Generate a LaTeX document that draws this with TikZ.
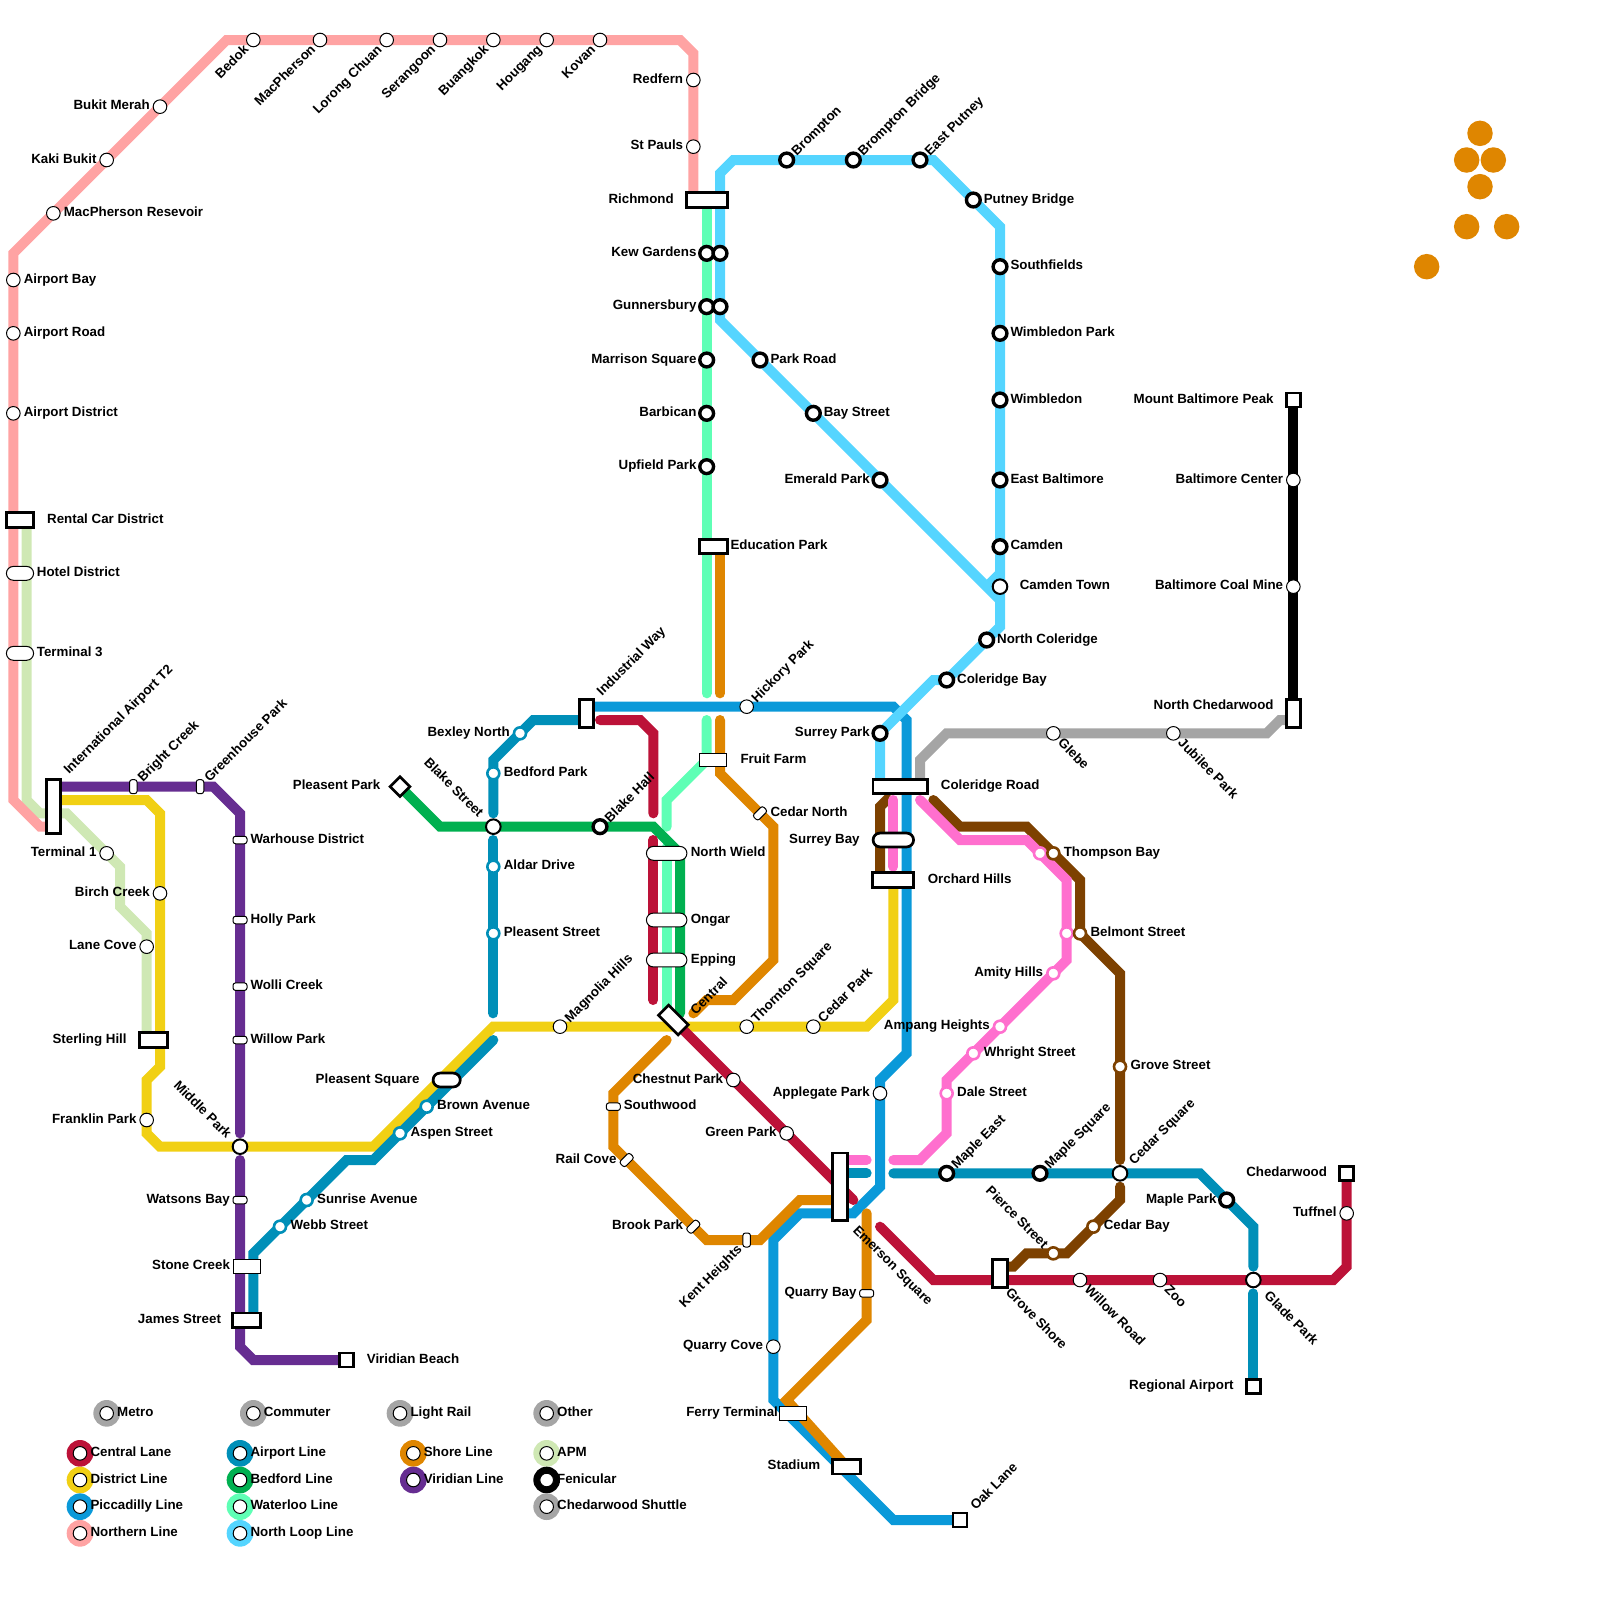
\documentclass[tikz,border=0pt]{standalone}
\usepackage{fontspec}
\setmainfont{Liberation Sans}
\usetikzlibrary{shapes.misc}
\pgfdeclarelayer{lines}
\pgfsetlayers{lines,main}
\definecolor{cCentral}{HTML}{BC1238}
\definecolor{cDistrict}{HTML}{F1D014}
\definecolor{cPicc}{HTML}{0A99D9}
\definecolor{cNorthern}{HTML}{FFA3A3}
\definecolor{cAirport}{HTML}{008FB8}
\definecolor{cBedford}{HTML}{00B050}
\definecolor{cWaterloo}{HTML}{5FFFB5}
\definecolor{cLoop}{HTML}{55D5FF}
\definecolor{cShore}{HTML}{DF8600}
\definecolor{cViridian}{HTML}{662D91}
\definecolor{cApm}{HTML}{CFE8B4}
\definecolor{cGrey}{HTML}{A5A5A5}
\definecolor{cPink}{HTML}{FF6FCE}
\definecolor{cBrown}{HTML}{7D4100}
\tikzset{
  ln/.style={line width=10pt,line cap=round,line join=miter},
  stn/.style={circle,draw=black,fill=white,inner sep=0pt,minimum size=13.6pt,line width=1pt},
  stm/.style={circle,draw=black,fill=white,inner sep=0pt,minimum size=14.6pt,line width=2pt},
  thk/.style={circle,draw=black,fill=white,inner sep=0pt,minimum size=13.8pt,line width=3.4pt},
  dotst/.style={circle,draw=#1,fill=white,inner sep=0pt,minimum size=12pt,line width=2.6pt},
  pil/.style={rectangle,rounded corners=2.5pt,draw=black,fill=white,inner sep=0pt,minimum width=14pt,minimum height=7.5pt,line width=1pt},
  pilv/.style={pil,rotate=90},
  pild/.style={pil,rotate=45},
  bxa/.style 2 args={rectangle,draw=black,fill=white,inner sep=0pt,minimum width=#1*13.33pt+1pt,minimum height=#2*13.33pt+1pt,line width=2.7pt},
  bxb/.style 2 args={rectangle,draw=black,fill=white,inner sep=0pt,minimum width=#1*13.33pt+0.5pt,minimum height=#2*13.33pt+0.5pt,line width=1pt},
  pla/.style 2 args={rounded rectangle,draw=black,fill=white,inner sep=0pt,minimum width=#1*13.33pt+0.5pt,minimum height=#2*13.33pt+0.5pt,line width=2.7pt},
  plb/.style 2 args={rounded rectangle,draw=black,fill=white,inner sep=0pt,minimum width=#1*13.33pt+0.5pt,minimum height=#2*13.33pt+0.5pt,line width=1pt},
  sq/.style={rectangle,draw=black,fill=white,inner sep=0pt,minimum size=14pt,line width=2.7pt},
  dsc/.style={circle,fill=#1,inner sep=0pt,minimum size=26.67pt},
  orb/.style={circle,fill=cShore,inner sep=0pt,minimum size=25.5pt},
  lab/.style={font=\fontsize{13.33pt}{16pt}\selectfont\bfseries,inner sep=0pt,text=black},
  lr/.style={lab,anchor=base west,xshift=10.3pt,yshift=-3.3pt},
  ll/.style={lab,anchor=base east,xshift=-10pt,yshift=-3.3pt},
  lur/.style={lab,rotate=45,anchor=base west,xshift=9.5pt,yshift=-4.6pt},
  ldr/.style={lab,rotate=-45,anchor=base west,xshift=10pt,yshift=-4.6pt},
  lul/.style={lab,rotate=-45,anchor=base east,xshift=-10pt,yshift=-4.6pt},
  ldl/.style={lab,rotate=45,anchor=base east,xshift=-10pt,yshift=-4.6pt},
}
\newcommand\St[6]{\node[#1] (#2) at (#3,#4) {};\node[#5] (#2-t) at (#3,#4) {#6};}
\newcommand\Sn[4]{\node[#1] (#2) at (#3,#4) {};}
\newcommand\Lg[6]{\node[dsc=#4] (#1-d) at (#2,#3) {};\node[#5] (#1) at (#2,#3) {};\node[lr] (#1-t) at (#2,#3) {#6};}
\begin{document}
\begin{tikzpicture}[x=13.3333pt,y=-13.3333pt]
\useasboundingbox (0,0) rectangle (120,120);
% --- Northern
\St{stn}{bedok}{19}{3}{ldl}{Bedok}
\St{stn}{macph}{24}{3}{ldl}{MacPherson}
\St{stn}{lorong}{29}{3}{ldl}{Lorong Chuan}
\St{stn}{serang}{33}{3}{ldl}{Serangoon}
\St{stn}{buang}{37}{3}{ldl}{Buangkok}
\St{stn}{hougang}{41}{3}{ldl}{Hougang}
\St{stn}{kovan}{45}{3}{ldl}{Kovan}
\St{stn}{redfern}{52}{6}{ll}{Redfern}
\St{stn}{stpauls}{52}{11}{ll}{St Pauls}
\St{stn}{bukit}{12}{8}{ll}{Bukit Merah}
\St{stn}{kaki}{8}{12}{ll}{Kaki Bukit}
\St{stn}{macres}{4}{16}{lr}{MacPherson Resevoir}
\St{stn}{apbay}{1}{21}{lr}{Airport Bay}
\St{stn}{aproad}{1}{25}{lr}{Airport Road}
\St{stn}{apdist}{1}{31}{lr}{Airport District}
\St{bxa={2}{1}}{rental}{1.5}{39}{lr,xshift=16.7pt}{Rental Car District}
\St{plb={2}{1}}{hotel}{1.5}{43}{lr,xshift=6.4pt}{Hotel District}
\St{plb={2}{1}}{term3}{1.5}{49}{lr,xshift=6.4pt}{Terminal 3}
% --- APM
\St{stn}{term1}{8}{64}{ll}{Terminal 1}
\St{stn}{lane}{11}{71}{ll}{Lane Cove}
\St{bxa={2}{1}}{sterling}{11.5}{78}{ll,xshift=-16.5pt}{Sterling Hill}
% --- Viridian
\St{pilv}{bright}{10}{59}{lur,yshift=0.5pt}{Bright Creek}
\St{pilv}{green}{15}{59}{lur,yshift=0.5pt}{Greenhouse Park}
\St{pil}{warhouse}{18}{63}{lr}{Warhouse District}
\St{pil}{holly}{18}{69}{lr}{Holly Park}
\St{pil}{wolli}{18}{74}{lr}{Wolli Creek}
\St{pil}{willowp}{18}{78}{lr}{Willow Park}
\St{pil}{watsons}{18}{90}{ll}{Watsons Bay}
\St{bxb={2}{1}}{stone}{18.5}{95}{ll,xshift=-6.5pt}{Stone Creek}
\St{bxa={2}{1}}{james}{18.5}{99}{ll,xshift=-15.5pt}{James Street}
\St{sq}{viridb}{26}{102}{lr,xshift=9.7pt}{Viridian Beach}
\St{bxa={1}{4}}{intl}{4}{60.5}{lur,xshift=24pt,yshift=16pt}{International Airport T2}
% --- District
\St{stn}{birch}{12}{67}{ll}{Birch Creek}
\St{stn}{franklin}{11}{84}{ll}{Franklin Park}
\St{stm}{middle}{18}{86}{lul,xshift=-5pt}{Middle Park}
\St{stn}{magnolia}{42}{77}{lur}{Magnolia Hills}
\St{stn}{thornton}{56}{77}{lur}{Thornton Square}
\St{stn}{cedarp}{61}{77}{lur}{Cedar Park}
\St{bxa={3}{1}}{orchard}{67}{66}{lr,xshift=24pt}{Orchard Hills}
\St{pla={2}{1}}{plsq}{33.5}{81}{ll,xshift=-17pt}{Pleasent Square}
% --- Airport
\St{dotst=cAirport}{bexley}{39}{55}{ll}{Bexley North}
\St{dotst=cAirport}{bedfordp}{37}{58}{lr}{Bedford Park}
\St{stm}{blakest}{37}{62}{lul,xshift=-7pt}{Blake Street}
\St{dotst=cAirport}{aldar}{37}{65}{lr}{Aldar Drive}
\St{dotst=cAirport}{plst}{37}{70}{lr}{Pleasent Street}
\St{dotst=cAirport}{brown}{32}{83}{lr}{Brown Avenue}
\St{dotst=cAirport}{aspen}{30}{85}{lr}{Aspen Street}
\St{dotst=cAirport}{sunrise}{23}{90}{lr}{Sunrise Avenue}
\St{dotst=cAirport}{webb}{21}{92}{lr}{Webb Street}
\St{bxa={1}{2}}{indway}{44}{53.5}{lur,xshift=13pt,yshift=5.6pt}{Industrial Way}
\St{thk}{mapleeast}{71}{88}{lur}{Maple East}
\St{thk}{maplesq}{78}{88}{lur}{Maple Square}
\St{stm}{cedarsq}{84}{88}{lur,xshift=6pt}{Cedar Square}
\St{thk}{maplepark}{92}{90}{ll}{Maple Park}
\St{stm}{glade}{94}{96}{ldr,xshift=9pt}{Glade Park}
\St{sq}{regional}{94}{104}{ll,xshift=-9.5pt}{Regional Airport}
% --- Bedford
\St{sq,rotate=45}{plpark}{30}{59}{ll,xshift=-9.5pt}{Pleasent Park}
\St{thk}{blakehall}{45}{62}{lur}{Blake Hall}
% --- Waterloo / Loop
\St{bxa={3}{1}}{richmond}{53}{15}{ll,xshift=-22.7pt}{Richmond}
\St{thk}{kew}{53}{19}{ll}{Kew Gardens}
\Sn{thk}{kewb}{54}{19}
\St{thk}{gunn}{53}{23}{ll}{Gunnersbury}
\Sn{thk}{gunnb}{54}{23}
\St{thk}{marrison}{53}{27}{ll}{Marrison Square}
\St{thk}{barbican}{53}{31}{ll}{Barbican}
\St{thk}{upfield}{53}{35}{ll}{Upfield Park}
\St{bxa={2}{1}}{education}{53.5}{41}{lr,xshift=6.7pt}{Education Park}
\St{bxb={2}{1}}{fruit}{53.5}{57}{lr,xshift=16.7pt}{Fruit Farm}
\St{plb={3}{1}}{nwield}{50}{64}{lr,xshift=13.7pt}{North Wield}
\St{plb={3}{1}}{ongar}{50}{69}{lr,xshift=13.7pt}{Ongar}
\St{plb={3}{1}}{epping}{50}{72}{lr,xshift=13.7pt}{Epping}
\St{bxa={2}{1},rotate=-45}{central}{50.5}{76.5}{lur,xshift=9.5pt,yshift=-8pt}{Central}
\St{thk}{brompton}{59}{12}{lur}{Brompton}
\St{thk}{brompb}{64}{12}{lur}{Brompton Bridge}
\St{thk}{eputney}{69}{12}{lur}{East Putney}
\St{thk}{putneyb}{73}{15}{lr}{Putney Bridge}
\St{thk}{southf}{75}{20}{lr}{Southfields}
\St{thk}{wimbp}{75}{25}{lr}{Wimbledon Park}
\St{thk}{wimb}{75}{30}{lr}{Wimbledon}
\St{thk}{ebalt}{75}{36}{lr}{East Baltimore}
\St{thk}{camden}{75}{41}{lr}{Camden}
\St{stm}{camdent}{75}{44}{lr,xshift=9.3pt}{Camden Town}
\St{thk}{ncoler}{74}{48}{lr}{North Coleridge}
\St{thk}{colerb}{71}{51}{lr}{Coleridge Bay}
\St{thk}{surreyp}{66}{55}{ll}{Surrey Park}
\St{thk}{parkrd}{57}{27}{lr}{Park Road}
\St{thk}{baysts}{61}{31}{lr}{Bay Street}
\St{thk}{emerald}{66}{36}{ll}{Emerald Park}
\St{bxa={4}{1}}{colerr}{67.5}{59}{lr,xshift=30.4pt}{Coleridge Road}
\St{pla={3}{1}}{surreyb}{67}{63}{ll,xshift=-23.5pt}{Surrey Bay}
% --- Piccadilly
\St{stn}{hickory}{56}{53}{lur}{Hickory Park}
\St{stn}{applegate}{66}{82}{ll}{Applegate Park}
\St{stn}{qcove}{58}{101}{ll}{Quarry Cove}
\St{bxb={2}{1}}{ferry}{59.5}{106}{ll,xshift=-5.2pt}{Ferry Terminal}
\St{bxa={2}{1}}{stadium}{63.5}{110}{ll,xshift=-16.2pt}{Stadium}
\St{sq}{oak}{72}{114}{lur,xshift=8pt}{Oak Lane}
\St{bxa={1}{5}}{emerson}{63}{89}{ldr,xshift=30pt,yshift=-18pt}{Emerson Square}
% --- Shore
\St{pil}{southw}{46}{83}{lr}{Southwood}
\St{pild}{railc}{47}{87}{ll}{Rail Cove}
\St{pild}{brookp}{52}{92}{ll}{Brook Park}
\St{pilv}{kent}{56}{93}{ldl}{Kent Heights}
\St{pil}{quarry}{65}{97}{ll}{Quarry Bay}
\St{pild}{cedarn}{57}{61}{lr}{Cedar North}
% --- Central
\St{stn}{chestnut}{55}{81}{ll}{Chestnut Park}
\St{stn}{greenp}{59}{85}{ll}{Green Park}
\St{bxa={1}{2}}{groveshore}{75}{95.5}{ldr,xshift=7.5pt,yshift=-6pt}{Grove Shore}
\St{stn}{willowr}{81}{96}{ldr}{Willow Road}
\St{stn}{zoo}{87}{96}{ldr}{Zoo}
\St{sq}{chedar}{101}{88}{ll,xshift=-9.5pt}{Chedarwood}
\St{stn}{tuffnel}{101}{91}{ll}{Tuffnel}
% --- Pink / Brown
\Sn{dotst=cPink}{thompp}{78}{64}
\St{dotst=cBrown}{thompb}{79}{64}{lr}{Thompson Bay}
\Sn{dotst=cPink}{belmp}{80}{70}
\St{dotst=cBrown}{belmb}{81}{70}{lr}{Belmont Street}
\St{dotst=cPink}{amity}{79}{73}{ll}{Amity Hills}
\St{dotst=cPink}{ampang}{75}{77}{ll}{Ampang Heights}
\St{dotst=cPink}{whright}{73}{79}{lr}{Whright Street}
\St{dotst=cPink}{dale}{71}{82}{lr}{Dale Street}
\St{dotst=cBrown}{grovest}{84}{80}{lr}{Grove Street}
\St{dotst=cBrown}{cedarb}{82}{92}{lr}{Cedar Bay}
\St{dotst=cBrown}{pierce}{79}{94}{lul}{Pierce Street}
% --- Grey / black
\St{stn}{glebe}{79}{55}{ldr}{Glebe}
\St{stn}{jubilee}{88}{55}{ldr}{Jubilee Park}
\St{bxa={1}{2}}{nched}{97}{53.5}{ll,xshift=-9.5pt,yshift=6.7pt}{North Chedarwood}
\St{sq}{mbalt}{97}{30}{ll,xshift=-9.5pt}{Mount Baltimore Peak}
\St{stn}{bcenter}{97}{36}{ll}{Baltimore Center}
\St{stn}{bcoal}{97}{44}{ll}{Baltimore Coal Mine}
% --- Orange dots
\node[orb] (o1) at (111,10) {};
\node[orb] (o2) at (110,12) {};
\node[orb] (o3) at (112,12) {};
\node[orb] (o4) at (111,14) {};
\node[orb] (o5) at (110,17) {};
\node[orb] (o6) at (113,17) {};
\node[orb] (o7) at (107,20) {};
% --- Legend
\Lg{lgmetro}{8}{106}{cGrey}{stn}{Metro}
\Lg{lgcomm}{19}{106}{cGrey}{stn}{Commuter}
\Lg{lglight}{30}{106}{cGrey}{stn}{Light Rail}
\Lg{lgother}{41}{106}{cGrey}{stn}{Other}
\Lg{lgcent}{6}{109}{cCentral}{stn}{Central Lane}
\Lg{lgdist}{6}{111}{cDistrict}{stn}{District Line}
\Lg{lgpicc}{6}{113}{cPicc}{stn}{Piccadilly Line}
\Lg{lgnorth}{6}{115}{cNorthern}{stn}{Northern Line}
\Lg{lgair}{18}{109}{cAirport}{stn}{Airport Line}
\Lg{lgbed}{18}{111}{cBedford}{stn}{Bedford Line}
\Lg{lgwat}{18}{113}{cWaterloo}{stn}{Waterloo Line}
\Lg{lgloop}{18}{115}{cLoop}{stn}{North Loop Line}
\Lg{lgshore}{31}{109}{cShore}{stn}{Shore Line}
\Lg{lgvir}{31}{111}{cViridian}{stn}{Viridian Line}
\Lg{lgapm}{41}{109}{cApm}{stn}{APM}
\Lg{lgfen}{41}{111}{black}{stn}{Fenicular}
\Lg{lgched}{41}{113}{cGrey}{stn}{Chedarwood Shuttle}
% === Lines
\begin{pgfonlayer}{lines}
\draw[ln,cApm] (2,39) -- (2,60) -- (3,61) -- (5,61) -- (9,65) -- (9,68) -- (11,70) -- (11,78);
\draw[ln,cNorthern] (52,15) -- (52,4) -- (51,3) -- (17,3) -- (1,19) -- (1,60) -- (3,62) -- (4,62);
\draw[ln,cDistrict] (4,60) -- (11,60) -- (12,61) -- (12,80) -- (11,81) -- (11,85) -- (12,86) -- (28,86) -- (37,77) -- (65,77) -- (67,75) -- (67,66);
% Piccadilly
\draw[ln,cPicc] (44,53) -- (hickory.center) -- (67,53) -- (68,54) -- (68,79) -- (66,81) -- (66,89) -- (64,91) -- (60,91) -- (58,93) -- (58,105) -- (67,114) -- (oak.center);
% Airport
\draw[ln,cAirport] (44,54) -- (40,54) -- (37,57) -- (37,61);
\draw[ln,cAirport] (37,63) -- (37,76);
\draw[ln,cAirport] (37,78) -- (28,87) -- (26,87) -- (19,94) -- (19,99);
\draw[ln,cAirport] (63,88) -- (65,88);
\draw[ln,cAirport] (67,88) -- (90,88) -- (94,92) -- (94,95);
\draw[ln,cAirport] (94,97) -- (regional.center);
% Waterloo
\draw[ln,cWaterloo] (richmond.center) -- (53,52);
\draw[ln,cWaterloo] (53,54) -- (53,57) -- (50,60) -- (50,62);
\draw[ln,cWaterloo] (50,63.5) -- (50,76);
% Bedford
\draw[ln,cBedford] (plpark.center) -- (33,62) -- (49,62) -- (51,64) -- (51,76);
% North Loop
\draw[ln,cLoop] (54,15) -- (54,13) -- (55,12) -- (70,12) -- (75,17) -- (75,47) -- (71,51) -- (70,51) -- (66,55) -- (66,59);
\draw[ln,cLoop] (54,15) -- (54,24) -- (75,45);
\draw[ln,cLoop,line cap=butt] (74,44) -- (75,43);
% Shore
\draw[ln,cShore] (54,41) -- (54,52);
\draw[ln,cShore] (54,54) -- (54,58) -- (58,62) -- (58,72) -- (55,75) -- (53,75) -- (52,76);
\draw[ln,cShore] (50,78) -- (46,82) -- (46,86) -- (53,93) -- (57,93) -- (60,90) -- (63,90);
\draw[ln,cShore] (65,91) -- (65,99) -- (59,105) -- (stadium.center);
% Viridian
\draw[ln,cViridian] (4,59) -- (16,59) -- (18,61) -- (18,85);
\draw[ln,cViridian] (18,87) -- (18,101) -- (19,102) -- (viridb.center);
% Central
\draw[ln,cCentral] (45,54) -- (48,54) -- (49,55) -- (49,61);
\draw[ln,cCentral] (49,63) -- (49,75);
\draw[ln,cCentral] (central.center) -- (64,90);
\draw[ln,cCentral] (66,92) -- (70,96) -- (100,96) -- (101,95) -- (chedar.center);
% Brown
\draw[ln,cBrown] (66.7,60) -- (66.5,60) -- (66,60.5) -- (66,66);
\draw[ln,cBrown] (70,60) -- (72,62) -- (77,62) -- (81,66) -- (81,70) -- (84,73) -- (84,87);
\draw[ln,cBrown] (84,89) -- (84,90) -- (80,94) -- (77,94) -- (76,95) -- (75,95);
% Pink
\draw[ln,cPink] (67,60) -- (67,65);
\draw[ln,cPink] (69,60) -- (72,63) -- (77,63) -- (80,66) -- (80,72) -- (71,81) -- (71,85) -- (69,87) -- (67,87);
\draw[ln,cPink] (63,87) -- (65,87);
% Grey
\draw[ln,cGrey] (69,59) -- (69,57) -- (71,55) -- (95,55) -- (96,54) -- (97,54);
% Black
\draw[ln,black] (mbalt.center) -- (nched.center);
\end{pgfonlayer}
\end{tikzpicture}
\end{document}
